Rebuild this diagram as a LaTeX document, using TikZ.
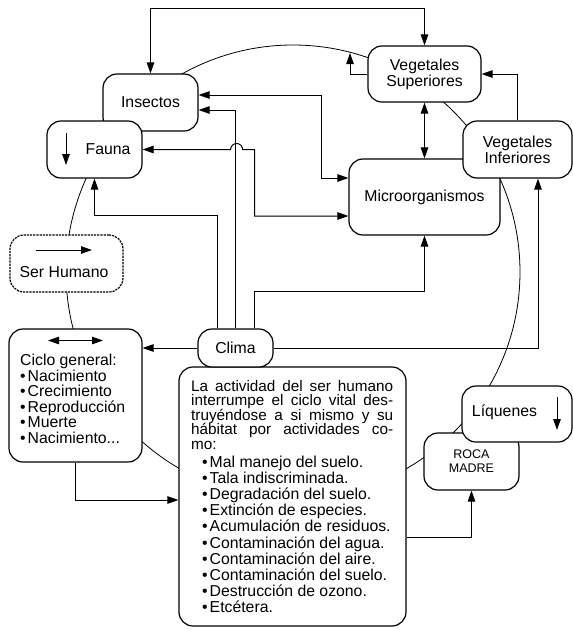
\documentclass[tikz,border=0pt]{standalone}
\usepackage{fontspec}
\setmainfont{Liberation Sans}
\usetikzlibrary{arrows.meta}
\begin{document}
\begin{tikzpicture}[x=1pt,y=-1pt,
  box/.style={draw, line width=1.2pt, rounded corners=14pt, fill=white, inner sep=0pt},
  conn/.style={line width=1pt, -{Triangle[length=11pt,width=7.5pt]}},
  both/.style={line width=1pt, {Triangle[length=11pt,width=7.5pt]}-{Triangle[length=11pt,width=7.5pt]}},
  txt/.style={anchor=base west, inner sep=0pt, text height=11pt, text depth=3.5pt},
  ptxt/.style={anchor=base west, inner sep=0pt, text height=10pt, text depth=3pt, font=\fontsize{15.3}{14.5}\selectfont},
  every node/.style={font=\fontsize{15.8}{16}\selectfont}
]
\useasboundingbox (0,0) rectangle (573,630);
% big cycle
\draw[line width=0.8pt] (293,272) circle[radius=227pt];

% nodes
\node[box, minimum width=95pt, minimum height=57pt] (insectos) at (150.5,102.5) {Insectos};
\node[box, minimum width=95pt, minimum height=57pt] (fauna) at (94.5,149.5) {};
\node (faunatxt) at (108,149) {Fauna};
\draw[conn] (66,133) -- (66,165);

\node[box, minimum width=113pt, minimum height=56pt, align=center] (vsup) at (424.5,74) {Vegetales\\Superiores};
\node[box, minimum width=151pt, minimum height=76pt] (micro) at (424.5,197) {Microorganismos};
\node[box, minimum width=109pt, minimum height=57pt, align=center] (vinf) at (517.5,149.5) {Vegetales\\Inferiores};

\node[box, dash pattern=on 2.2pt off 1pt, minimum width=113pt, minimum height=57pt] (serh) at (66.5,263.5) {};
\node (serhtxt) at (64,272) {Ser Humano};
\draw[conn] (36,250) -- (92,250);

\node[box, minimum width=133pt, minimum height=133pt] (ciclo) at (75.5,395.5) {};
\draw[both] (48,340.5) -- (103,340.5);
\node[txt] (cg) at (20,365) {Ciclo general:};
\node[txt] (cg0) at (20,381) {•\hspace{2pt}Nacimiento};
\node[txt] (cg1) at (20,396.6) {•\hspace{2pt}Crecimiento};
\node[txt] (cg2) at (20,412.2) {•\hspace{2pt}Reproducción};
\node[txt] (cg3) at (20,427.8) {•\hspace{2pt}Muerte};
\node[txt] (cg4) at (20,443.4) {•\hspace{2pt}Nacimiento...};

\node[box, minimum width=227pt, minimum height=259pt] (bigbox) at (292.5,496.5) {};
\node[box, minimum width=75pt, minimum height=38pt] (clima) at (235.5,348) {Clima};
\foreach \t [count=\i from 0] in {{La actividad del ser humano},{interrumpe el ciclo vital des-},{truyéndose a si mismo y su},{hábitat por actividades co-}}
  \node[ptxt] (p\i) at (191,{391+14.5*\i}) {\makebox[202pt][s]{\t}};
\node[ptxt] (p4) at (191,449) {mo:};
\foreach \t [count=\i from 0] in {{Mal manejo del suelo.},{Tala indiscriminada.},{Degradación del suelo.},{Extinción de especies.},{Acumulación de residuos.},{Contaminación del agua.},{Contaminación del aire.},{Contaminación del suelo.},{Destrucción de ozono.},{Etcétera.}}
  \node[txt] (li\i) at (202,{467+16.2*\i}) {•\hspace{2pt}\t};

\node[box, minimum width=95pt, minimum height=57pt, align=center, font=\fontsize{12.5}{14}\selectfont] (roca) at (471.5,461.5) {ROCA\\MADRE};
\node[box, minimum width=110pt, minimum height=56pt] (liq) at (517,414) {};
\node (liqtxt) at (504.5,412) {Líquenes};
\draw[conn] (557,397) -- (557,430);

% connectors
\coordinate (ytop) at (0,8);
\draw[both] (insectos.north) -- (insectos.north |- ytop) -- (vsup.north |- ytop) -- (vsup.north);
\coordinate (arcpt) at (350,53);
\draw[conn] (vsup.west) -| (arcpt);
\draw[both] ([yshift=7.5pt]insectos.east) -- ++(123,0) |- ([yshift=19pt]micro.west);
\draw[conn] (clima.north) |- ([yshift=-7.5pt]insectos.east);
\draw[both] (fauna.east) -- ++(88,0) arc[start angle=180, end angle=0, radius=6pt] -- ++(12,0) |- ([yshift=-19pt]micro.west);
\draw[conn] ([xshift=-18.5pt]clima.north) -- ++(0,-113) -| (fauna.south);
\draw[conn] ([xshift=18.5pt]clima.north) -- ++(0,-37) -| (micro.south);
\draw[both] (vsup.south) -- (micro.north);
\draw[conn] (vinf.north) |- (vsup.east);
\draw[conn] (clima.east) -| ([xshift=20.5pt]vinf.south);
\draw[conn] (clima.west) -- (clima.west -| ciclo.east);
\draw[conn] (ciclo.south) |- ([yshift=-3.5pt]bigbox.west);
\draw[conn] ([yshift=-40.5pt]bigbox.east) -| (roca.south);
\end{tikzpicture}
\end{document}
